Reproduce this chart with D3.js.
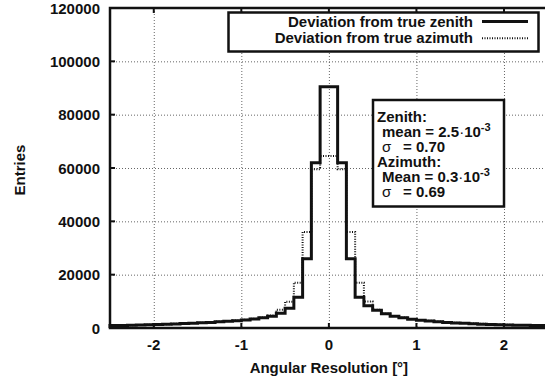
<!DOCTYPE html>
<html>
<head>
<meta charset="utf-8">
<script src="https://cdn.jsdelivr.net/npm/d3@7"></script>
<style>
  body { margin: 0; background: #fff; }
  text { font-family: "Liberation Sans", Arial, sans-serif; font-weight: bold; fill: #111; }
</style>
</head>
<body>
<div id="chart-area"></div>
<script>
// Histogram bins: 0.1 wide, from -2.5 to 2.5 (lower edges)
var binWidth = 0.1;
var binLow = d3.range(50).map(function(i) { return Math.round((-2.5 + i * binWidth) * 10) / 10; });

// Entries per bin
var zenith = [
  900, 950, 1000, 1100, 1200, 1300, 1400, 1500, 1650, 1800,
  1950, 2100, 2300, 2500, 2750, 3000, 3350, 3800, 4400, 5500,
  7400, 11500, 26000, 62000, 90500, 90500, 62000, 26000, 11500, 8300,
  6700, 5300, 4400, 3800, 3300, 2900, 2600, 2300, 2100, 1900,
  1750, 1600, 1450, 1350, 1250, 1150, 1050, 1000, 950, 900
];
var azimuth = [
  950, 1000, 1050, 1150, 1250, 1350, 1450, 1550, 1700, 1850,
  2000, 2200, 2400, 2600, 2850, 3100, 3450, 3950, 4700, 6800,
  9800, 17000, 36000, 59500, 64500, 64500, 59500, 36000, 17000, 9900,
  6800, 5300, 4500, 3900, 3400, 3000, 2700, 2400, 2200, 2000,
  1850, 1700, 1550, 1450, 1350, 1250, 1150, 1100, 1000, 950
];

var xTicks = [-2, -1, 0, 1, 2];
var yTicks = [0, 20000, 40000, 60000, 80000, 100000, 120000];

var seriesNames = ["Deviation from true zenith", "Deviation from true azimuth"];
var statsLines = [
  {label: "Zenith:", value: null, indent: 0},
  {label: "mean", value: "2.5", exp: "-3", indent: 1},
  {label: "\u03c3", value: "0.70", indent: 1},
  {label: "Azimuth:", value: null, indent: 0},
  {label: "Mean", value: "0.3", exp: "-3", indent: 1},
  {label: "\u03c3", value: "0.69", indent: 1}
];

var W = 545, H = 381;
var plot = {left: 110, top: 8, bottom: 328, right: 547.75};

var svg = d3.select("#chart-area")
    .append("svg")
    .attr("width", W)
    .attr("height", H)
    .style("display", "block");

var x = d3.scaleLinear().domain([-2.5, 2.5]).range([plot.left, plot.right]);
var y = d3.scaleLinear().domain([0, 120000]).range([plot.bottom, plot.top]);

// Grid (dotted grey)
var grid = svg.append("g").attr("stroke", "#666").attr("stroke-width", 1).attr("stroke-dasharray", "1,2");
grid.selectAll(".gx").data(xTicks).enter().append("line")
    .attr("x1", function(d) { return x(d) + 0.5; }).attr("x2", function(d) { return x(d) + 0.5; })
    .attr("y1", plot.top).attr("y2", plot.bottom);
grid.selectAll(".gy").data(yTicks.slice(1, -1)).enter().append("line")
    .attr("x1", plot.left).attr("x2", plot.right)
    .attr("y1", function(d) { return y(d) + 0.5; }).attr("y2", function(d) { return y(d) + 0.5; });

// Step outline of a histogram
function stepPath(values) {
  var pts = [[x(binLow[0]), y(0)]];
  values.forEach(function(v, i) {
    pts.push([x(binLow[i]), y(v)]);
    pts.push([x(binLow[i] + binWidth), y(v)]);
  });
  pts.push([x(binLow[binLow.length - 1] + binWidth), y(0)]);
  return d3.line()(pts);
}

svg.append("path")
    .attr("d", stepPath(azimuth))
    .attr("fill", "none")
    .attr("stroke", "#111")
    .attr("stroke-width", 2)
    .attr("stroke-dasharray", "1,1.5");

svg.append("path")
    .attr("d", stepPath(zenith))
    .attr("fill", "none")
    .attr("stroke", "#111")
    .attr("stroke-width", 3)
    .attr("stroke-linejoin", "miter");

// Legend box (top right)
var leg = svg.append("g");
leg.append("rect")
    .attr("x", 228.5).attr("y", 12.5).attr("width", 310).attr("height", 39)
    .attr("fill", "#fff").attr("stroke", "#111").attr("stroke-width", 2.5);
seriesNames.forEach(function(name, i) {
  var ly = 26.5 + i * 16.8;
  leg.append("text")
      .attr("x", 473).attr("y", ly)
      .attr("text-anchor", "end")
      .style("font-size", "15px")
      .text(name);
  leg.append("line")
      .attr("x1", 482).attr("x2", 528)
      .attr("y1", ly - 5).attr("y2", ly - 5)
      .attr("stroke", "#111")
      .attr("stroke-width", i === 0 ? 3 : 2)
      .attr("stroke-dasharray", i === 0 ? null : "1,1.5");
});

// Stats box
var st = svg.append("g");
st.append("rect")
    .attr("x", 373).attr("y", 100).attr("width", 131).attr("height", 106.5)
    .attr("fill", "#fff").attr("stroke", "#111").attr("stroke-width", 2.5);
statsLines.forEach(function(s, i) {
  var ty = 121.5 + i * 15;
  var tx = s.indent ? 382 : 377;
  var t = st.append("text").attr("x", tx).attr("y", ty).style("font-size", "15px");
  if (s.value === null) { t.text(s.label); return; }
  if (s.label === "\u03c3") {
    t.style("font-weight", "normal").text(s.label);
    st.append("text").attr("x", 403).attr("y", ty).style("font-size", "15px").text("= " + s.value);
    return;
  }
  t.text(s.label + " = " + s.value);
  t.append("tspan").style("font-weight", "normal").text("\u00b7");
  t.append("tspan").text("10");
  t.append("tspan").attr("dy", -6).style("font-size", "11px").text(s.exp);
});

// Frame
svg.append("rect")
    .attr("x", plot.left).attr("y", plot.top)
    .attr("width", plot.right - plot.left).attr("height", plot.bottom - plot.top)
    .attr("fill", "none").attr("stroke", "#111").attr("stroke-width", 2.5);

// Inward ticks on all four sides
var ticks = svg.append("g").attr("stroke", "#111").attr("stroke-width", 2);
xTicks.forEach(function(d) {
  ticks.append("line").attr("x1", x(d)).attr("x2", x(d)).attr("y1", plot.bottom).attr("y2", plot.bottom - 5);
  ticks.append("line").attr("x1", x(d)).attr("x2", x(d)).attr("y1", plot.top).attr("y2", plot.top + 5);
});
yTicks.forEach(function(d) {
  ticks.append("line").attr("x1", plot.left).attr("x2", plot.left + 5).attr("y1", y(d)).attr("y2", y(d));
});

// Tick labels
svg.selectAll(".xl").data(xTicks).enter().append("text")
    .attr("x", function(d) { return x(d); })
    .attr("y", 350)
    .attr("text-anchor", "middle")
    .style("font-size", "15px")
    .text(function(d) { return d; });
svg.selectAll(".yl").data(yTicks).enter().append("text")
    .attr("x", 100)
    .attr("y", function(d) { return y(d) + 5.5; })
    .attr("text-anchor", "end")
    .style("font-size", "15px")
    .text(function(d) { return d; });

// Axis titles
svg.append("text")
    .attr("x", (plot.left + x(2.5)) / 2)
    .attr("y", 373)
    .attr("text-anchor", "middle")
    .style("font-size", "15px")
    .text("Angular Resolution [\u00b0]");
svg.append("text")
    .attr("transform", "translate(25,170) rotate(-90)")
    .attr("text-anchor", "middle")
    .style("font-size", "15px")
    .text("Entries");
</script>
</body>
</html>
